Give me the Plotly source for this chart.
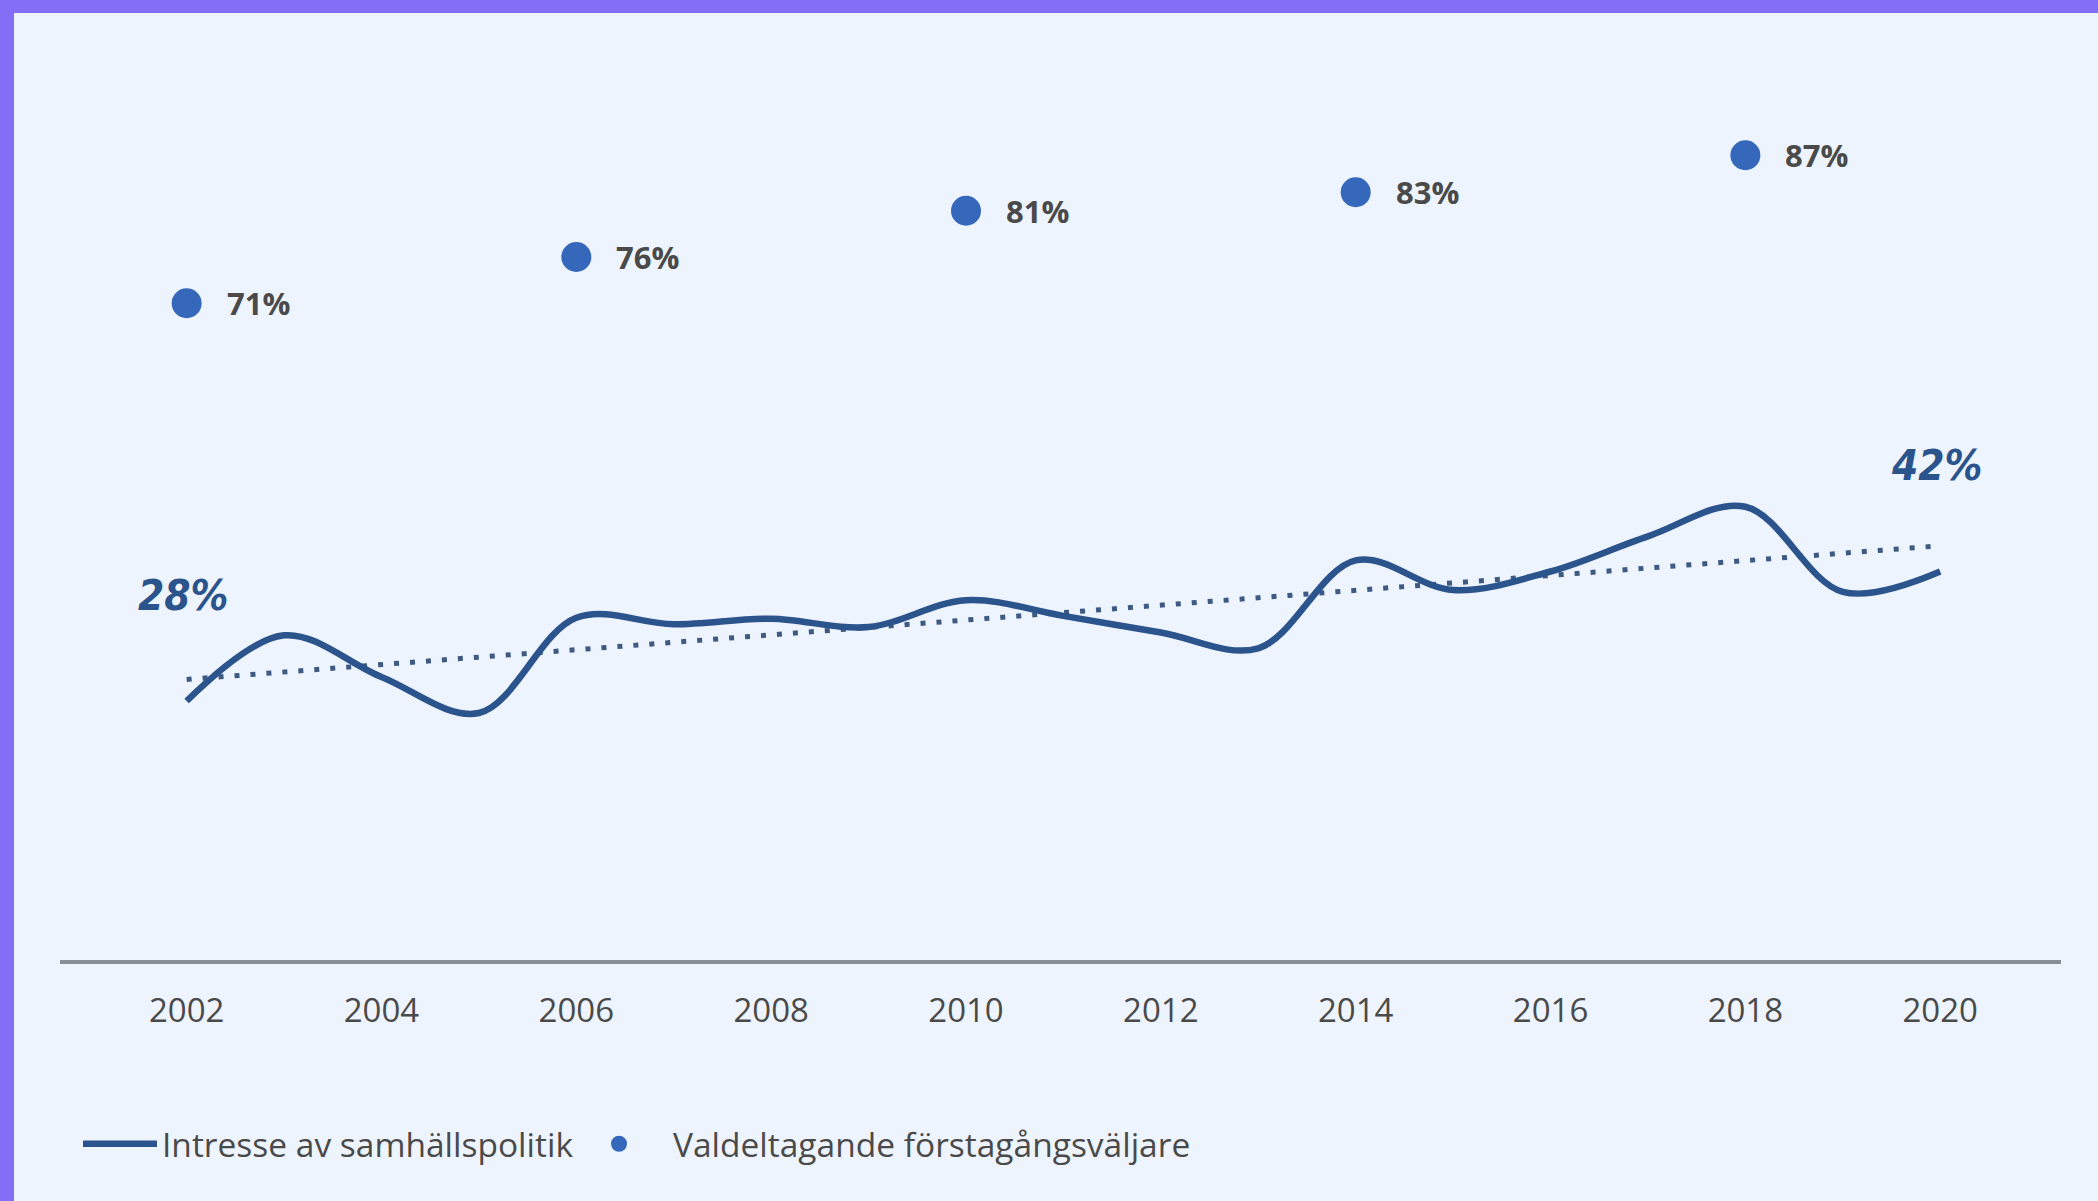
import numpy as np
import plotly.graph_objects as go

# ---------------- data ----------------
years = list(range(2002, 2021))
interest = [28.0, 35.1, 30.6, 26.7, 37.0, 36.3, 36.9, 36.0, 38.9, 37.2,
            35.4, 33.7, 43.2, 40.0, 42.0, 45.8, 49.0, 39.8, 42.0]
interest_name = "Intresse av samhällspolitik"

election_years = [2002, 2006, 2010, 2014, 2018]
turnout = [71, 76, 81, 83, 87]
turnout_labels = ["71%", "76%", "81%", "83%", "87%"]
turnout_name = "Valdeltagande förstagångsväljare"

tick_years = [2002, 2004, 2006, 2008, 2010, 2012, 2014, 2016, 2018, 2020]
tick_labels = ["2002", "2004", "2006", "2008", "2010", "2012", "2014", "2016", "2018", "2020"]

end_label_years = [2002, 2020]
end_label_values = [28, 42]
end_labels = ["28%", "42%"]

# linear trend of the interest series
slope, intercept = np.polyfit(years, interest, 1)
trend = [slope * y + intercept for y in years]

# ---------------- styling ----------------
W, H = 2098, 1201
ML, MR, MT, MB = 60, 37, 20, 241
PW, PH = W - ML - MR, H - MT - MB

BG = "#EEF4FD"
PURPLE = "#846EF6"
LINE_C = "#2B538C"
DOT_C = "#3568BA"
TEXT_C = "#4A4A4A"

fig = go.Figure()

fig.add_trace(go.Scatter(
    x=years, y=trend, mode="lines", showlegend=False, hoverinfo="skip",
    line=dict(color="#3E5A82", width=5, dash="5px,11px"),
))

fig.add_trace(go.Scatter(
    x=years, y=interest, mode="lines", name=interest_name, legend="legend",
    line=dict(color=LINE_C, width=6.5, shape="spline", smoothing=1.0),
))

fig.add_trace(go.Scatter(
    x=election_years, y=turnout, mode="markers", name=turnout_name, legend="legend2",
    marker=dict(color=DOT_C, size=30),
))

for yr, v, lab in zip(election_years, turnout, turnout_labels):
    fig.add_annotation(x=yr, y=v, text=lab, showarrow=False, xanchor="left",
                       yanchor="middle", xshift=38,
                       font=dict(family="Open Sans", size=31, color=TEXT_C, weight="bold"))

for yr, v, lab in zip(end_label_years, end_label_values, end_labels):
    fig.add_annotation(x=yr, y=v, text=lab, showarrow=False, xanchor="center",
                       yanchor="middle", xshift=-4, yshift=106,
                       font=dict(family="DejaVu Sans Condensed, DejaVu Sans, sans-serif",
                                 size=42, color=LINE_C, weight="bold", style="italic"))

# purple frame (top and left bars)
def px_to_paper_x(px):
    return (px - ML) / PW

def px_to_paper_y(py):
    return (H - MB - py) / PH

fig.add_shape(type="rect", xref="paper", yref="paper",
              x0=px_to_paper_x(0), x1=px_to_paper_x(W),
              y0=px_to_paper_y(13), y1=px_to_paper_y(0),
              fillcolor=PURPLE, line_width=0, layer="above")
fig.add_shape(type="rect", xref="paper", yref="paper",
              x0=px_to_paper_x(0), x1=px_to_paper_x(14),
              y0=px_to_paper_y(H), y1=px_to_paper_y(0),
              fillcolor=PURPLE, line_width=0, layer="above")

legend_common = dict(orientation="h", xanchor="left", yanchor="middle",
                     y=px_to_paper_y(1144), bgcolor="rgba(0,0,0,0)",
                     font=dict(size=33.5, color=TEXT_C))

fig.update_layout(
    width=W, height=H,
    margin=dict(l=ML, r=MR, t=MT, b=MB),
    paper_bgcolor=BG, plot_bgcolor=BG,
    hovermode=False,
    font=dict(family="Open Sans", color=TEXT_C),
    legend=dict(x=px_to_paper_x(78), itemwidth=74, **legend_common),
    legend2=dict(x=px_to_paper_x(565), itemwidth=98, **legend_common),
    xaxis=dict(range=[2000.7, 2021.24], tickvals=tick_years, ticktext=tick_labels,
               showgrid=False, zeroline=False, showline=True, linecolor="#8A8F96",
               linewidth=4, ticks="", ticklabelstandoff=18,
               tickfont=dict(size=33, color=TEXT_C)),
    yaxis=dict(range=[0, PH / 9.25], visible=False, showgrid=False, zeroline=False),
)

fig.write_html("out.html", config={"displayModeBar": False},
               post_script="document.body.style.margin='0';document.body.style.overflow='hidden';")
